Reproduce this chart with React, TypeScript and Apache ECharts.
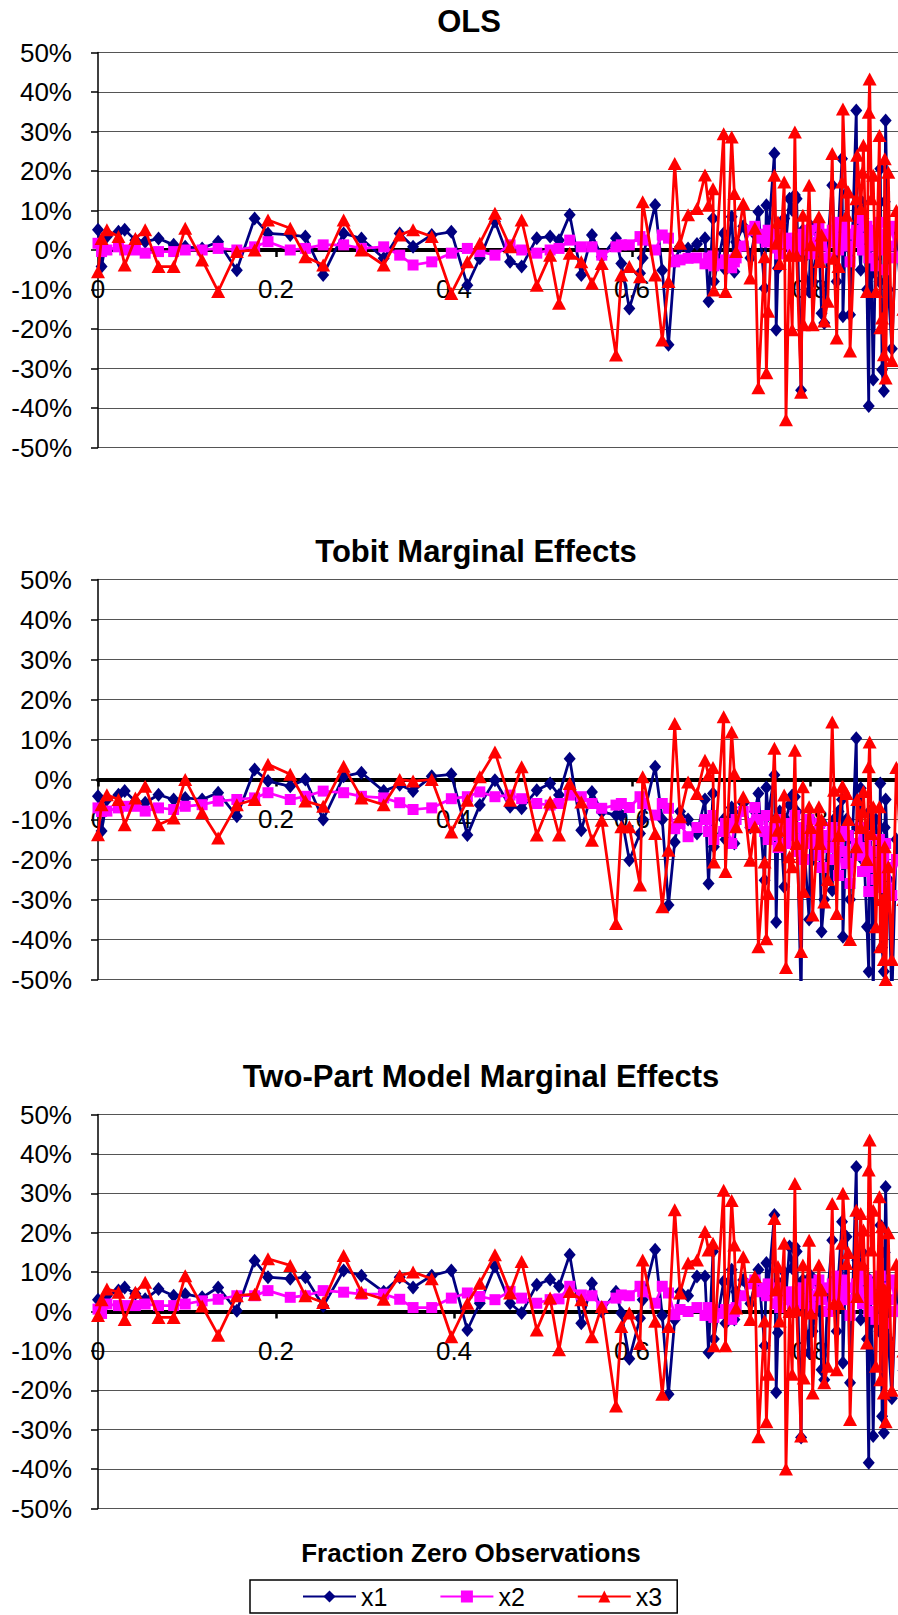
import React, { useEffect, useRef } from "react";
import * as echarts from "echarts";

const fractionZero = [
  0.000, 0.004, 0.010, 0.023, 0.030, 0.042, 0.053, 0.068, 0.085, 0.098,
  0.117, 0.135, 0.156, 0.176, 0.191, 0.216, 0.233, 0.253, 0.276, 0.296,
  0.321, 0.339, 0.354, 0.375, 0.397, 0.415, 0.429, 0.446, 0.463, 0.476,
  0.493, 0.508, 0.518, 0.530, 0.543, 0.555, 0.566, 0.582, 0.588, 0.597,
  0.609, 0.612, 0.626, 0.634, 0.641, 0.648, 0.654, 0.663, 0.673, 0.682,
  0.686, 0.691, 0.692, 0.703, 0.705, 0.712, 0.715, 0.717, 0.725, 0.733,
  0.738, 0.742, 0.749, 0.751, 0.753, 0.760, 0.762, 0.764, 0.766, 0.771,
  0.773, 0.777, 0.780, 0.783, 0.785, 0.790, 0.792, 0.793, 0.799, 0.801,
  0.803, 0.810, 0.811, 0.813, 0.816, 0.820, 0.825, 0.827, 0.830, 0.832,
  0.836, 0.837, 0.841, 0.843, 0.845, 0.852, 0.853, 0.857, 0.859, 0.860,
  0.864, 0.866, 0.867, 0.869, 0.871, 0.874, 0.878, 0.879, 0.881, 0.883,
  0.884, 0.885, 0.888, 0.892, 0.897, 0.905,
];

// OLS (percent)
const olsX1 = [
  5.1, -4.2, 3.4, 4.6, 5.1, 2.5, 2.1, 2.9, 1.3, 0.8,
  0.4, 2.1, -5.1, 8.0, 4.2, 3.8, 3.4, -6.3, 4.2, 2.9,
  -2.1, 4.2, 0.8, 3.8, 4.6, -8.9, -2.1, 7.2, -3.0, -4.2,
  3.0, 3.4, 2.5, 8.9, -6.3, 3.8, -1.7, 3.0, -3.4, -14.8,
  -5.9, -2.0, 11.4, -5.1, -24.0, -3.0, 0.8, 0.4, 1.5, 3.0,
  -13.0, 8.0, -8.0, 4.2, -5.0, 8.4, -5.5, 2.0, 6.0, -2.0,
  4.0, 9.7, -9.7, 11.3, 3.0, 24.4, -20.2, -4.6, 5.0, 8.0,
  2.0, 13.0, 10.1, 13.9, 13.0, -35.5, 5.0, -2.0, -10.5, 6.0,
  -8.0, 4.0, -3.0, -16.0, -18.5, 2.0, 16.4, 5.0, -8.0, 6.0,
  23.1, -16.8, 14.3, 3.0, -16.4, 35.3, 10.0, -5.0, 12.0, 8.0,
  -10.0, -39.5, 5.0, -6.0, -32.8, 3.0, -8.0, 20.6, -30.3, -35.7,
  12.2, 32.8, -10.0, -25.0, 5.0, -20.0,
];
const olsX2 = [
  1.7, -0.4, 0, 0.8, 0, 0, -0.8, -0.4, -0.4, 0,
  0, 0.4, 0, 0.8, 2.1, 0, 0.4, 1.3, 1.3, 0.4,
  0.8, -1.3, -3.8, -3.0, -0.8, 0.4, -0.4, -1.3, 1.3, 0,
  -0.8, 0, 0.4, 2.5, 0.8, 0.8, -1.3, 0.8, 1.3, 1.3,
  3.4, 2.5, 0, 3.8, 3.0, -3.0, -2.5, -2.1, -2.0, -3.5,
  -2.0, -1.5, -4.0, -3.5, -2.5, -4.5, -3.0, -2.0, 1.0, 5.0,
  6.0, 3.0, 4.0, 2.0, 5.0, 3.0, 0.5, 4.0, -1.0, 2.0,
  3.0, 1.5, 0, 2.0, 3.0, 1.0, 4.0, 0, 5.0, 2.0,
  -1.0, 6.0, 3.0, 1.0, 4.0, -2.0, 5.0, 2.0, 7.0, 0,
  3.0, 6.0, 1.0, 4.0, -3.0, 5.0, 2.0, 8.0, 0, 3.0,
  6.0, -2.0, 4.0, 1.0, 5.0, -4.0, 2.0, 7.0, 0, 3.0,
  -5.0, 4.0, 1.0, 6.0, -2.0, 3.0,
];
const olsX3 = [
  -5.5, 2.9, 5.1, 3.4, -3.8, 2.9, 5.1, -4.2, -4.2, 5.5,
  -2.5, -10.5, -0.4, 0, 7.6, 5.5, -1.7, -3.8, 7.6, 0,
  -3.8, 3.8, 5.1, 3.4, -11.0, -3.0, 1.7, 9.3, 0.8, 7.6,
  -8.9, -1.3, -13.5, -0.8, -3.0, -8.4, -3.4, -26.6, -6.3, -4.2,
  -6.8, 12.2, -6.3, -22.8, -8.0, 21.9, 1.7, 8.9, 10.5, 19.0,
  11.3, 15.5, -10.1, 29.4, -10.5, 28.6, 14.3, -0.4, 11.8, -7.1,
  5.5, -34.9, -1.7, -31.1, -15.5, 18.9, 1.7, 7.1, -3.4, 17.2,
  -43.0, -1.3, -20.2, 29.9, -1.3, -36.0, 8.8, -18.9, 16.4, 1.3,
  -18.9, 8.4, -2.9, 3.8, -18.0, -13.0, 24.4, -2.1, -22.3, -4.2,
  17.2, 35.7, 8.8, 14.7, -25.6, 13.0, 24.0, 10.5, 19.7, 26.5,
  -10.5, 34.9, 43.3, 13.0, 18.9, -10.5, 29.0, -19.7, -17.2, -26.5,
  23.1, -32.4, 19.7, -28.0, 10.0, -15.0,
];

// Tobit marginal effects (percent)
const tobitX1 = [
  -4.2, -12.9, -5.0, -3.8, -2.9, -5.5, -5.8, -3.8, -5.0, -4.6,
  -5.0, -3.3, -9.2, 2.5, -0.4, -1.7, 0, -10.0, 0.8, 1.7,
  -2.9, -1.3, -2.9, 0.8, 1.3, -13.9, -6.4, -0.2, -6.8, -7.2,
  -2.7, -1.0, -3.9, 5.2, -12.7, -3.1, -8.1, -8.9, -9.0, -20.2,
  -13.5, -10.0, 3.2, -10.0, -31.4, -15.6, -8.0, -10.0, -13.5, -5.0,
  -26.0, -3.5, -16.8, -10.0, -15.0, -7.0, -16.0, -9.0, -6.0, -12.0,
  -8.0, -3.5, -25.2, -2.0, -9.0, 1.1, -35.6, -14.0, -8.0, -26.8,
  -10.0, -6.4, -4.0, -4.3, -8.0, -55.0, -12.0, -15.0, -35.0, -10.0,
  -20.0, -12.0, -18.0, -38.0, -30.0, -15.0, -27.7, -10.0, -20.0, -8.0,
  -5.0, -39.3, -10.0, -15.0, -30.0, 10.3, -12.0, -2.2, -20.0, -15.0,
  -36.8, -48.0, -8.0, -20.0, -55.0, -10.0, -22.0, -1.0, -42.0, -48.0,
  -12.0, -5.0, -25.0, -55.0, -15.0, -30.0,
];
const tobitX2 = [
  -7.1, -8.0, -7.9, -7.1, -6.7, -6.7, -7.9, -7.1, -7.5, -6.7,
  -6.3, -5.4, -5.0, -4.6, -3.3, -5.0, -4.2, -2.9, -3.3, -4.2,
  -4.6, -5.8, -7.5, -7.1, -4.8, -4.3, -3.1, -4.3, -3.9, -4.8,
  -6.0, -6.4, -6.0, -3.9, -4.3, -6.0, -7.2, -6.4, -6.0, -7.0,
  -4.3, -6.0, -8.9, -6.0, -7.2, -12.3, -11.0, -14.3, -12.0, -10.0,
  -13.0, -9.0, -15.0, -13.0, -11.0, -16.0, -12.0, -10.0, -8.0, -11.0,
  -7.0, -10.0, -13.0, -9.0, -15.0, -12.0, -14.0, -17.0, -10.0, -13.0,
  -16.0, -11.0, -14.0, -9.0, -18.0, -12.0, -15.0, -20.0, -10.0, -16.0,
  -13.0, -19.0, -11.0, -22.0, -14.0, -17.0, -12.0, -20.0, -15.0, -24.0,
  -13.0, -18.0, -21.0, -14.0, -26.0, -16.0, -19.0, -12.0, -23.0, -17.0,
  -20.0, -28.0, -14.0, -22.0, -18.0, -25.0, -15.0, -21.0, -27.0, -19.0,
  -24.0, -16.0, -22.0, -29.0, -20.0, -25.0,
];
const tobitX3 = [
  -13.8, -6.3, -3.8, -5.0, -11.3, -4.6, -1.7, -11.3, -9.6, 0,
  -8.3, -14.6, -6.3, -5.0, 3.8, 1.3, -5.4, -6.7, 3.3, -4.6,
  -6.3, 0, -0.4, 0, -13.1, -5.2, 0.7, 6.9, -5.2, 3.2,
  -13.9, -5.6, -13.9, -1.0, -5.6, -15.2, -10.2, -36.0, -11.8, -11.8,
  -26.4, 0.7, -13.5, -31.8, -17.7, 14.0, -9.3, -0.6, -3.5, 4.8,
  1.1, 3.0, -20.6, 15.7, -23.0, 11.9, 1.5, -11.8, -4.3, -20.2,
  -11.8, -41.8, -20.6, -39.8, -28.5, 7.8, -9.3, -12.7, -16.4, -3.9,
  -47.0, -19.3, -21.8, 7.3, -16.0, -43.0, -1.8, -28.0, -6.8, -12.0,
  -33.9, -6.8, -16.0, -10.0, -30.6, -25.0, 14.4, -2.7, -33.5, -14.0,
  -1.8, -1.8, -3.5, -10.0, -40.0, -16.8, -5.0, -12.0, -8.0, -3.0,
  -20.0, 3.2, 9.4, -13.5, -6.8, -36.8, -6.8, -41.8, -30.0, -45.0,
  -16.8, -50.0, -21.8, -45.0, 3.0, -30.0,
];

// Two-part model marginal effects (percent)
const twoPartX1 = [
  3.0, 0.6, 4.0, 5.3, 6.1, 4.5, 3.1, 5.7, 4.0, 4.4,
  3.6, 6.1, 0.2, 12.9, 8.7, 8.3, 8.7, 1.4, 10.4, 9.1,
  5.0, 8.7, 6.1, 9.1, 10.4, -4.7, 2.1, 11.4, 2.1, -0.4,
  6.8, 8.1, 6.4, 14.4, -3.0, 7.2, 0, 5.0, -0.4, -12.0,
  -1.7, 3.0, 15.7, -1.0, -21.0, -2.1, 5.0, 4.0, 8.9, 8.9,
  -10.4, 15.2, -7.0, 7.6, -3.0, 10.6, -2.0, 5.0, 8.0, 2.0,
  7.0, 10.6, -8.7, 12.3, 6.0, 24.5, -20.5, -5.4, 7.0, 10.0,
  4.0, 16.5, 11.0, 16.5, 15.2, -32.0, 8.0, 1.0, -10.5, 9.0,
  -5.0, 7.0, 0, -14.8, -17.3, 5.0, 18.1, 8.0, -5.0, 9.0,
  22.8, -13.0, 19.0, 6.0, -18.1, 36.7, 13.0, -2.0, 15.0, 11.0,
  -7.0, -38.4, 8.0, -3.0, -31.6, 6.0, -5.0, 21.9, -26.6, -30.8,
  15.0, 31.6, -7.0, -22.0, 8.0, -15.0,
];
const twoPartX2 = [
  0.6, -0.5, 1.9, 1.5, 1.5, 1.5, 1.9, 1.5, 1.5, 1.9,
  2.7, 3.1, 4.0, 4.0, 5.3, 3.6, 4.0, 5.3, 4.9, 4.4,
  4.4, 3.1, 1.0, 1.0, 3.4, 4.7, 3.8, 3.0, 5.1, 3.4,
  2.1, 3.0, 3.2, 6.4, 4.2, 4.0, 1.3, 3.4, 4.2, 4.0,
  6.4, 5.0, 2.1, 6.4, 4.7, -0.8, 0.5, 0, 1.0, -1.0,
  1.0, 0.5, -1.5, -0.5, 0.5, -2.0, 0, 1.0, 4.0, 7.0,
  8.0, 5.0, 6.0, 4.0, 7.0, 5.0, 2.0, 6.0, 1.0, 4.0,
  5.0, 3.0, 2.0, 4.0, 5.0, 3.0, 6.0, 2.0, 7.0, 4.0,
  1.0, 8.0, 5.0, 3.0, 6.0, 0, 7.0, 4.0, 9.0, 2.0,
  5.0, 8.0, 3.0, 6.0, -1.0, 7.0, 4.0, 10.0, 2.0, 5.0,
  8.0, 0, 6.0, 3.0, 7.0, -2.0, 4.0, 9.0, 2.0, 5.0,
  -3.0, 6.0, 3.0, 8.0, 0, 5.0,
];
const twoPartX3 = [
  -1.0, 3.0, 5.7, 4.9, -2.0, 4.9, 7.4, -1.5, -1.5, 9.1,
  1.4, -6.0, 4.0, 4.4, 13.4, 11.7, 4.0, 2.3, 14.2, 4.9,
  3.1, 9.1, 10.0, 8.3, -6.4, 2.1, 7.2, 14.4, 4.7, 12.7,
  -4.7, 3.4, -9.7, 5.1, 3.0, -6.4, 1.3, -24.0, -3.8, -0.4,
  -8.1, 13.1, -2.5, -21.0, -3.8, 25.8, 4.7, 12.3, 13.1, 20.3,
  15.6, 17.3, -8.7, 30.8, -8.7, 28.2, 16.9, 0.9, 13.9, -2.0,
  8.9, -31.8, -2.4, -28.0, -15.9, 23.6, 5.5, 11.4, -2.4, 17.3,
  -40.0, 0, -15.9, 32.5, 0.4, -31.6, 11.8, -16.9, 18.1, -0.4,
  -20.7, 11.8, 5.5, 5.5, -18.1, -13.9, 27.4, 2.1, -14.8, 2.0,
  17.3, 30.0, 12.2, 15.0, -27.4, 25.7, 3.8, 24.9, 12.0, 20.7,
  -8.0, 35.9, 43.5, 15.6, 25.7, -13.9, 29.1, -17.3, 21.5, -20.7,
  5.5, -28.0, 20.0, -20.0, 12.0, -10.0,
];

const panelTitles = ["OLS", "Tobit Marginal Effects", "Two-Part Model Marginal Effects"];
const seriesNames = ["x1", "x2", "x3"];
const xAxisTitle = "Fraction Zero Observations";

const FONT = '"Liberation Sans", Arial, sans-serif';

export default function App() {
  const ref = useRef<HTMLDivElement>(null);

  useEffect(() => {
    if (!ref.current) return;
    const chart = echarts.init(ref.current, null, { renderer: "svg" });

    const panelData = [
      [olsX1, olsX2, olsX3],
      [tobitX1, tobitX2, tobitX3],
      [twoPartX1, twoPartX2, twoPartX3],
    ];
    const grids = [
      { left: 98, top: 52.5, width: 890, height: 395, outerBoundsMode: "none", containLabel: false },
      { left: 98, top: 579.5, width: 890, height: 400, outerBoundsMode: "none", containLabel: false },
      { left: 98, top: 1114.5, width: 890, height: 394, outerBoundsMode: "none", containLabel: false },
    ];
    const titlePos = [
      { x: 469, y: 21 },
      { x: 476, y: 551 },
      { x: 481, y: 1076 },
    ];
    const styles = [
      { color: "#000080", symbol: "diamond", size: [12, 14] },
      { color: "#FF00FF", symbol: "rect", size: [11, 11] },
      { color: "#FF0000", symbol: "triangle", size: [14, 13] },
    ];

    const xAxes = grids.map((g, i) => ({
      type: "value",
      gridIndex: i,
      min: 0,
      max: 1,
      interval: 0.2,
      position: "bottom",
      offset: -g.height / 2,
      axisLine: { show: true, onZero: false, lineStyle: { color: "#000", width: 4 } },
      axisTick: { show: true, length: 7, lineStyle: { color: "#000", width: 2.5 } },
      axisLabel: {
        show: true,
        margin: 26,
        fontSize: 26,
        color: "#000",
        fontFamily: FONT,
        formatter: (v: number) =>
          v > 0.85 ? "" : v === 0 ? "0" : String(Math.round(v * 10) / 10),
      },
      splitLine: { show: false },
    }));
    const yAxes = grids.map((_, i) => ({
      type: "value",
      gridIndex: i,
      min: -50,
      max: 50,
      interval: 10,
      axisLine: { show: true, onZero: false, lineStyle: { color: "#000", width: 1.5 } },
      axisTick: { show: true, length: 7, lineStyle: { color: "#000", width: 1.5 } },
      axisLabel: {
        margin: 26,
        fontSize: 26,
        color: "#000",
        fontFamily: FONT,
        formatter: "{value}%",
      },
      splitLine: { show: true, lineStyle: { color: "#555", width: 1.2 } },
    }));

    const series: any[] = [];
    panelData.forEach((arrs, p) => {
      arrs.forEach((vals, s) => {
        const st = styles[s];
        series.push({
          name: seriesNames[s],
          type: "line",
          xAxisIndex: p,
          yAxisIndex: p,
          data: fractionZero.map((x, i) => [x, vals[i]]),
          symbol: st.symbol,
          symbolSize: st.size,
          showSymbol: true,
          clip: true,
          lineStyle: { color: st.color, width: 2.75 },
          itemStyle: { color: st.color },
          emphasis: { disabled: true },
          silent: true,
          z: 2 + s,
        });
      });
    });

    const graphics: any[] = panelTitles.map((t, i) => ({
      type: "text",
      x: titlePos[i].x,
      y: titlePos[i].y,
      style: {
        text: t,
        fill: "#000",
        fontSize: 31,
        fontWeight: "bold",
        fontFamily: FONT,
        align: "center",
        verticalAlign: "middle",
      },
    }));
    graphics.push({
      type: "text",
      x: 471,
      y: 1553,
      style: {
        text: xAxisTitle,
        fill: "#000",
        fontSize: 26,
        fontWeight: "bold",
        fontFamily: FONT,
        align: "center",
        verticalAlign: "middle",
      },
    });

    chart.setOption({
      animation: false,
      grid: grids,
      xAxis: xAxes,
      yAxis: yAxes,
      series,
      graphic: graphics,
      legend: {
        data: seriesNames,
        left: 250,
        top: 1580,
        orient: "horizontal",
        itemWidth: 53,
        itemHeight: 15,
        itemGap: 52,
        padding: [4, 15, 4, 52],
        borderColor: "#000",
        borderWidth: 1.5,
        selectedMode: false,
        textStyle: { fontSize: 25, color: "#000", fontFamily: FONT },
      },
    });

    return () => chart.dispose();
  }, []);

  return (
    <div
      ref={ref}
      style={{ position: "absolute", left: 0, top: 0, width: 898, height: 1615, background: "#fff" }}
    />
  );
}
